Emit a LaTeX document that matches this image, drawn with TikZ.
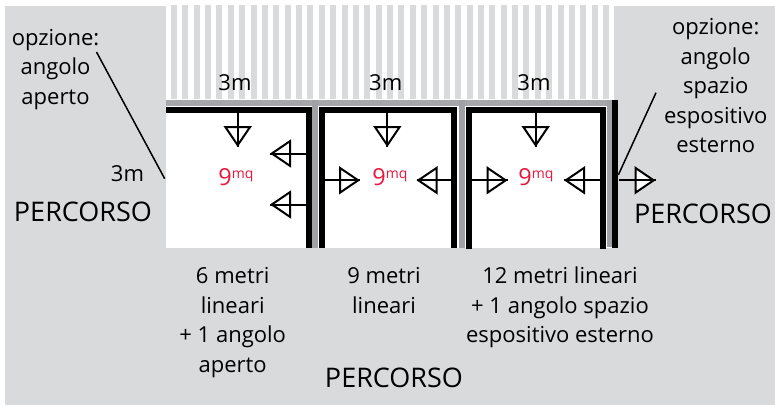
\documentclass[tikz,border=0pt]{standalone}
\usepackage{fontspec}
\setmainfont{Open Sans}
\usetikzlibrary{arrows.meta}
\definecolor{bgGray}{HTML}{D9DADB}
\definecolor{barGray}{HTML}{A5A7AA}
\definecolor{wallGray}{HTML}{9FA1A4}
\definecolor{redLabel}{HTML}{E8173C}
\tikzset{
  lab/.style={anchor=base,inner sep=0pt,outer sep=0pt,align=center,font=\fontsize{22}{29.5}\selectfont,text=black},
  perc/.style={anchor=base,inner sep=0pt,outer sep=0pt,font=\fontsize{27}{30}\selectfont,text=black},
  sqm/.style={anchor=base,inner sep=0pt,outer sep=0pt,text=redLabel,font=\fontsize{23.5}{24}\selectfont},
  pointer/.style={line width=2pt,-{Triangle[open,fill=white,length=21pt,width=28pt,line width=2pt]}},
  shaft/.style={line width=2pt},
  leader/.style={line width=1.5pt},
  wall/.style={fill=black,draw=none},
  gwall/.style={fill=wallGray,draw=none}
}
\newcommand{\mqlabel}[2]{\node[sqm] (#1) at (#2) {9\raisebox{7pt}{\fontsize{14}{14}\selectfont mq}};}
\newcommand{\ptr}[2]{\draw[pointer] (#1) -- (#2); \draw[shaft] (#1) -- (#2);}
\begin{document}
\begin{tikzpicture}[x=1pt,y=-1pt]
\useasboundingbox (0,0) rectangle (775,405);
\fill[white] (0,0) rectangle (775,405);
\fill[bgGray] (5,6) rectangle (775,405);
% stripes area
\fill[white] (160,0) rectangle (614,100);
\fill[bgGray] (5,5.5) rectangle (166,100);
\fill[bgGray] (614,5.5) rectangle (775,100);
\foreach \i in {0,...,38}{\fill[bgGray] ({171+11.37*\i},5) rectangle ({177+11.37*\i},99);}
% rooms base
\fill[white] (166,100) rectangle (612,248);
% grey bars
\fill[barGray] (166,100) rectangle (612,106);
\fill[gwall] (312,100) rectangle (318,248);
\fill[gwall] (459,100) rectangle (465,248);
\fill[gwall] (606.5,100) rectangle (612,247);
% black walls room 1
\fill[wall] (166,107) rectangle (312,113);
\fill[wall] (306,107) rectangle (312,248);
% room 2
\fill[wall] (319,107) rectangle (457,113);
\fill[wall] (319,107) rectangle (325,248);
\fill[wall] (451,107) rectangle (457,248);
% room 3
\fill[wall] (466,107) rectangle (606,113);
\fill[wall] (466,107) rectangle (472,249);
\fill[wall] (600,107) rectangle (606,249);
\fill[wall] (612,100) rectangle (618,248);
% pointer end points
\coordinate (d1a) at (237.7,112); \coordinate (d1b) at (237.7,147);
\coordinate (l1a) at (306,153.5); \coordinate (l1b) at (270,153.5);
\coordinate (l2a) at (306,204.5); \coordinate (l2b) at (270,204.5);
\coordinate (d2a) at (387.3,112); \coordinate (d2b) at (387.3,147);
\coordinate (r2a) at (325,180.3); \coordinate (r2b) at (360,180.3);
\coordinate (l3a) at (451,180.3); \coordinate (l3b) at (416.5,180.3);
\coordinate (d3a) at (535.7,112); \coordinate (d3b) at (535.7,147);
\coordinate (r3a) at (472,180.3); \coordinate (r3b) at (507.5,180.3);
\coordinate (l4a) at (600,180.3); \coordinate (l4b) at (564,180.3);
\coordinate (r4a) at (619,180.3); \coordinate (r4b) at (655.5,180.3);
\ptr{d1a}{d1b}\ptr{l1a}{l1b}\ptr{l2a}{l2b}
\ptr{d2a}{d2b}\ptr{r2a}{r2b}\ptr{l3a}{l3b}
\ptr{d3a}{d3b}\ptr{r3a}{r3b}\ptr{l4a}{l4b}\ptr{r4a}{r4b}
% red labels
\mqlabel{m1}{236,185}
\mqlabel{m2}{390,185}
\mqlabel{m3}{536,185}
% text
\node[lab] (w1) at (235,90) {3m};
\node[lab] (w2) at (385.7,90) {3m};
\node[lab] (w3) at (534,90) {3m};
\node[lab] (h1) at (127.5,181) {3m};
\node[perc] (p1) at (83,221.7) {PERCORSO};
\node[perc] (p2) at (703,223) {PERCORSO};
\node[perc] (p3) at (394,387) {PERCORSO};
\node[lab] (oa) at (55.5,104) {opzione:\\angolo\\aperto};
\node[lab] (ob) at (715.7,152.7) {opzione:\\angolo\\spazio\\espositivo\\esterno};
\node[lab] (t1) at (232.7,372) {6 metri\\lineari\\+ 1 angolo\\aperto};
\node[lab] (t2) at (384,313) {9 metri\\lineari};
\node[lab] (t3) at (560,342.7) {12 metri lineari\\+ 1 angolo spazio\\espositivo esterno};
% leaders
\coordinate (la) at (96.5,52); \coordinate (lb) at (164.7,178.7);
\coordinate (ra) at (656,92.7); \coordinate (rb) at (618.3,175);
\draw[leader] (la) -- (lb);
\draw[leader] (ra) -- (rb);
\end{tikzpicture}
\end{document}
